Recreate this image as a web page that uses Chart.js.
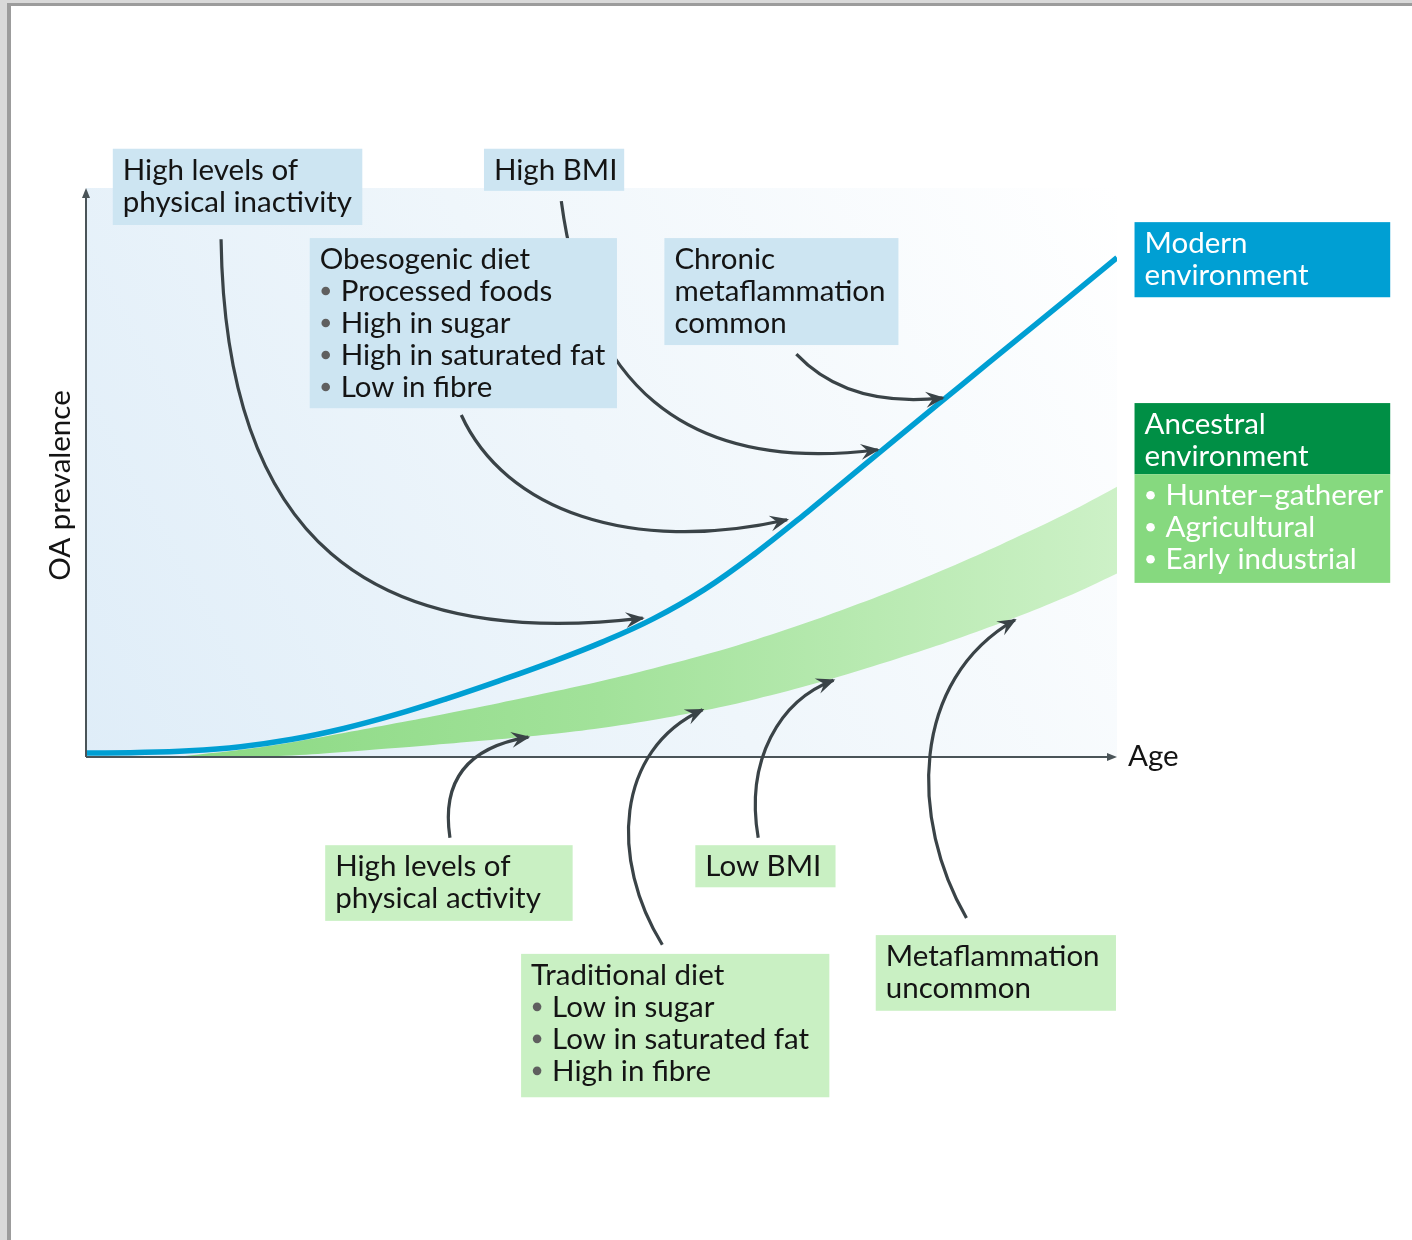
<!DOCTYPE html>
<html><head><meta charset="utf-8">
<script src="https://cdn.jsdelivr.net/npm/chart.js@4.4.1/dist/chart.umd.min.js"></script>
<style>html,body{margin:0;padding:0;background:#fff;overflow:hidden}canvas{display:block}</style>
</head><body>
<canvas id="c" width="1412" height="1240"></canvas>
<script>
// ---------- data (age on x, OA prevalence on y, arbitrary 0-100 units) ----------
const ages = [0,5,10,15,20,25,30,35,40,45,50,55,60,65,70,75,80,85,90,95,100];
const modernPrevalence = [0.7,0.79,1.09,1.81,3.11,5.01,7.43,10.26,13.34,16.59,20.14,24.27,29.46,35.9,43.1,50.6,58.05,65.5,72.9,80.3,87.75];
const ancestralAges = [8.5,10,15,20,25,30,35,40,45,50,55,60,65,70,75,80,85,90,95,100];
const ancestralLower = [0,0,0,0.26,0.86,1.56,2.31,3.11,4.01,5.11,6.51,8.21,10.21,12.56,15.21,18.06,21.11,24.41,28.06,32.26];
const ancestralUpper = [0,0.26,1.26,2.61,4.21,5.91,7.66,9.46,11.36,13.36,15.56,17.96,20.66,23.66,26.96,30.51,34.31,38.41,42.7,47.5];
const xAxisTitle = 'Age';
const yAxisTitle = 'OA prevalence';

// annotation texts
const txtInactivity = ['High levels of','physical inactivity'];
const txtHighBMI = ['High BMI'];
const txtObesogenic = ['Obesogenic diet','• Processed foods','• High in sugar','• High in saturated fat','• Low in fibre'];
const txtChronic = ['Chronic','metaflammation','common'];
const txtModern = ['Modern','environment'];
const txtAncestral = ['Ancestral','environment'];
const txtAncestralTypes = ['• Hunter\u2013gatherer','• Agricultural','• Early industrial'];
const txtActivity = ['High levels of','physical activity'];
const txtLowBMI = ['Low BMI'];
const txtTraditional = ['Traditional diet','• Low in sugar','• Low in saturated fat','• High in fibre'];
const txtUncommon = ['Metaflammation','uncommon'];

// annotation placement, in data units [left, top, right, bottom]
const boxes = [
  {rect:[2.6,106.9,26.8,93.5], style:'blue', lines:txtInactivity},
  {rect:[38.6,106.9,52.2,99.5], style:'blue', lines:txtHighBMI},
  {rect:[21.7,91.2,51.5,61.3], style:'blue', lines:txtObesogenic},
  {rect:[56.1,91.2,78.8,72.4], style:'blue', lines:txtChronic},
  {rect:[101.7,94.0,126.5,80.8], style:'modern', lines:txtModern},
  {rect:[101.7,62.2,126.5,49.7], style:'ancestral', lines:txtAncestral},
  {rect:[101.7,49.7,126.5,30.6], style:'ancestralList', lines:txtAncestralTypes},
  {rect:[23.2,-15.5,47.2,-28.8], style:'green', lines:txtActivity},
  {rect:[59.1,-15.5,72.7,-22.9], style:'green', lines:txtLowBMI},
  {rect:[42.2,-34.6,72.1,-59.8], style:'green', lines:txtTraditional},
  {rect:[76.6,-31.3,99.9,-44.6], style:'green', lines:txtUncommon}
];
// curved arrows: cubic bezier control points in data units
const arrows = [
  [[13.1,91.0],[13.5,38.1],[27.5,18.8],[54.0,24.4]],
  [[46.1,97.7],[48.4,66.3],[57.6,49.6],[76.8,54.0]],
  [[36.4,60.1],[40.6,43.4],[52.8,35.5],[68.0,41.7]],
  [[68.9,70.8],[72.2,64.5],[77.0,61.9],[83.1,63.1]],
  [[35.3,-14.2],[34.3,-2.3],[38.2,2.1],[42.9,3.5]],
  [[55.9,-33.0],[50.8,-18.1],[51.3,1.2],[59.8,8.3]],
  [[65.2,-14.2],[63.9,-0.5],[67.3,10.0],[72.5,13.5]],
  [[85.4,-28.3],[79.9,-11.1],[79.9,13.5],[90.1,24.1]]
];

// ---------- styles ----------
const FONT = '29.5px Lato';
const STYLES = {
  blue: {fill:'#cde5f2', text:'#141414', dot:'#5f5f5f'},
  green: {fill:'#c9f0c3', text:'#141414', dot:'#5f5f5f'},
  modern: {fill:'#009fd3', text:'#ffffff', dot:'#ffffff'},
  ancestral: {fill:'#008f45', text:'#ffffff', dot:'#ffffff'},
  ancestralList: {fill:'#86d97f', text:'#ffffff', dot:'#ffffff'}
};
const toXY = (xs, ys) => xs.map((x, i) => ({x, y: ys[i]}));

function drawArrow(ctx, pts) {
  const [p0,p1,p2,p3] = pts;
  ctx.save();
  ctx.strokeStyle = '#3a4347'; ctx.fillStyle = '#3a4347';
  ctx.lineWidth = 3.2;
  ctx.beginPath(); ctx.moveTo(p0[0],p0[1]);
  ctx.bezierCurveTo(p1[0],p1[1],p2[0],p2[1],p3[0],p3[1]);
  ctx.stroke();
  let dx = p3[0]-p2[0], dy = p3[1]-p2[1];
  const len = Math.hypot(dx,dy); dx/=len; dy/=len;
  const nx = -dy, ny = dx;
  const tx = p3[0]+dx*2, ty = p3[1]+dy*2;
  const L = 19, W = 8, N = 12;
  ctx.beginPath();
  ctx.moveTo(tx,ty);
  ctx.lineTo(tx-dx*L+nx*W, ty-dy*L+ny*W);
  ctx.lineTo(tx-dx*N, ty-dy*N);
  ctx.lineTo(tx-dx*L-nx*W, ty-dy*L-ny*W);
  ctx.closePath(); ctx.fill();
  ctx.restore();
}

function drawBox(ctx, xs, ys, b) {
  const st = STYLES[b.style];
  const l = xs.getPixelForValue(b.rect[0]), t = ys.getPixelForValue(b.rect[1]);
  const r = xs.getPixelForValue(b.rect[2]), bt = ys.getPixelForValue(b.rect[3]);
  ctx.save();
  ctx.fillStyle = st.fill; ctx.fillRect(l, t, r-l, bt-t);
  ctx.font = FONT; ctx.textBaseline = 'alphabetic'; ctx.textAlign = 'left';
  b.lines.forEach((line, i) => {
    const y = t + 31 + i*32;
    if (line.startsWith('• ')) {
      ctx.fillStyle = st.dot;
      ctx.beginPath(); ctx.arc(l+16, y-10, 4.3, 0, Math.PI*2); ctx.fill();
      ctx.fillStyle = st.text; ctx.fillText(line.slice(2), l+31, y);
    } else {
      ctx.fillStyle = st.text; ctx.fillText(line, l+10, y);
    }
  });
  ctx.restore();
}

const diagram = {
  id: 'diagram',
  beforeDraw(chart) {
    const {ctx, chartArea: a, width, height} = chart;
    ctx.save();
    ctx.fillStyle = '#ffffff'; ctx.fillRect(0,0,width,height);
    ctx.fillStyle = '#d9d9d9'; ctx.fillRect(0,0,width,3); ctx.fillRect(0,0,7,height);
    ctx.fillStyle = '#9c9c9c'; ctx.fillRect(7,3,width-7,3); ctx.fillRect(7,3,4,height-3);
    const g = ctx.createLinearGradient(a.left, a.bottom, a.right, a.top);
    g.addColorStop(0, '#dfedf8'); g.addColorStop(0.5, '#eff6fb'); g.addColorStop(1, '#ffffff');
    ctx.fillStyle = g; ctx.fillRect(a.left, a.top, a.right-a.left, a.bottom-a.top);
    ctx.restore();
  },
  afterDatasetsDraw(chart) {
    const {ctx, chartArea: a} = chart;
    const xs = chart.scales.x, ys = chart.scales.y;
    // axes with arrow heads
    ctx.save();
    ctx.strokeStyle = '#4a5458'; ctx.fillStyle = '#4a5458'; ctx.lineWidth = 2;
    ctx.beginPath();
    ctx.moveTo(a.left, a.bottom); ctx.lineTo(a.left, a.top+6);
    ctx.moveTo(a.left, a.bottom); ctx.lineTo(a.right-6, a.bottom);
    ctx.stroke();
    ctx.beginPath(); ctx.moveTo(a.left, a.top); ctx.lineTo(a.left-4, a.top+10); ctx.lineTo(a.left+4, a.top+10); ctx.closePath(); ctx.fill();
    ctx.beginPath(); ctx.moveTo(a.right, a.bottom); ctx.lineTo(a.right-10, a.bottom-4); ctx.lineTo(a.right-10, a.bottom+4); ctx.closePath(); ctx.fill();
    // axis titles
    ctx.fillStyle = '#141414'; ctx.font = FONT;
    ctx.textAlign = 'left'; ctx.textBaseline = 'alphabetic';
    ctx.fillText(xAxisTitle, a.right + 11, a.bottom + 9);
    ctx.translate(a.left - 26, (a.top + a.bottom)/2 + 13);
    ctx.rotate(-Math.PI/2);
    ctx.textAlign = 'center'; ctx.textBaseline = 'middle';
    ctx.fillText(yAxisTitle, 0, 0);
    ctx.restore();
    // arrows then boxes
    arrows.forEach(p => drawArrow(ctx, p.map(q => [xs.getPixelForValue(q[0]), ys.getPixelForValue(q[1])])));
    boxes.forEach(b => drawBox(ctx, xs, ys, b));
  }
};

const chart = new Chart(document.getElementById('c'), {
  type: 'line',
  data: {
    datasets: [
      {label:'Modern environment', data: toXY(ages, modernPrevalence), borderColor:'#009fd3', borderWidth:5.5,
       pointRadius:0, tension:0.4, fill:false, order:0},
      {label:'Ancestral environment (lower)', data: toXY(ancestralAges, ancestralLower), borderColor:'rgba(0,0,0,0)', borderWidth:0,
       pointRadius:0, tension:0.4, fill:false, order:2},
      {label:'Ancestral environment (upper)', data: toXY(ancestralAges, ancestralUpper), borderColor:'rgba(0,0,0,0)', borderWidth:0,
       pointRadius:0, tension:0.4, fill:'-1', order:1,
       backgroundColor: (c) => {
         const a = c.chart.chartArea;
         if (!a) return '#a6e39e';
         const g = c.chart.ctx.createLinearGradient(a.left, 0, a.right, 0);
         g.addColorStop(0, '#86d77e'); g.addColorStop(0.5, '#a2e29a'); g.addColorStop(1, '#cdf1c7');
         return g;
       }}
    ]
  },
  options: {
    responsive: false, animation: false, devicePixelRatio: 1,
    layout: {padding: {left: 86, right: 295, top: 188, bottom: 483}},
    scales: {
      x: {type:'linear', min:0, max:100, display:false},
      y: {type:'linear', min:0, max:100, display:false}
    },
    plugins: {legend:{display:false}, tooltip:{enabled:false}}
  },
  plugins: [diagram]
});
</script>
</body></html>
